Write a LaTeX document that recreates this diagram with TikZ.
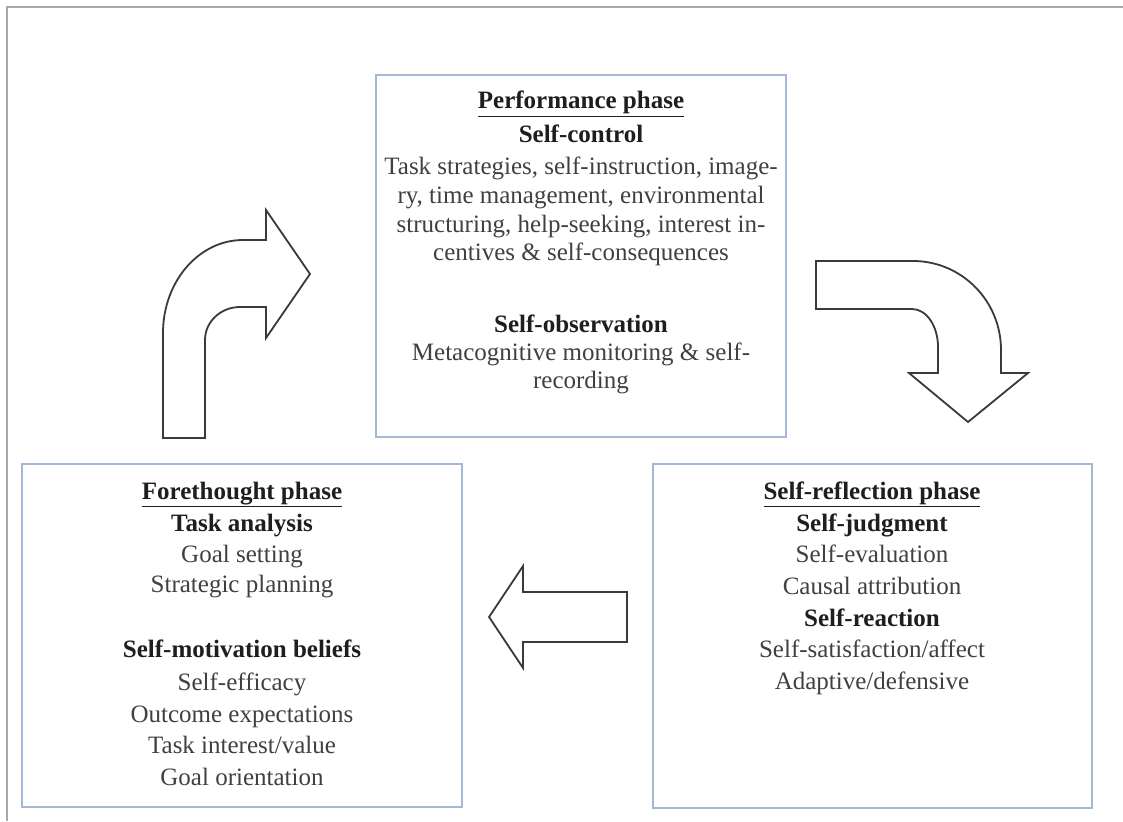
\documentclass[tikz,border=0pt]{standalone}
\usepackage{fontspec}
\setmainfont{Liberation Serif}
\definecolor{boxblue}{HTML}{A3B8D4}
\definecolor{arrowgray}{HTML}{3A3A3A}
\definecolor{txtgray}{HTML}{404040}
\definecolor{headgray}{HTML}{1E1E1E}
\definecolor{framegray}{HTML}{A8A8A8}
\tikzset{
  phasebox/.style={draw=boxblue, line width=2pt, rectangle, inner sep=0pt, fill=white},
  reg/.style={anchor=base, inner sep=0pt, text=txtgray, font=\fontsize{25}{28}\selectfont},
  bold/.style={anchor=base, inner sep=0pt, text=headgray, font=\fontsize{25}{28}\selectfont\bfseries},
  blockarrow/.style={draw=arrowgray, line width=1.8pt, fill=white, line join=miter},
  frameline/.style={draw=framegray, line width=2pt}
}
\begin{document}
\begin{tikzpicture}[x=1pt,y=-1pt]
\useasboundingbox (0,0) rectangle (1123,821);
\fill[white] (0,0) rectangle (1123,821);
\draw[frameline] (1123,7) -- (7,7) -- (7,821);

% boxes
\node[phasebox, minimum width=410pt, minimum height=362pt] (perf) at (581,256) {};
\node[phasebox, minimum width=440pt, minimum height=343pt] (fore) at (242,635.5) {};
\node[phasebox, minimum width=439pt, minimum height=344pt] (refl) at (872.5,636) {};

% performance phase text
\node[bold] (p1) at (581,109) {\underline{Performance phase}};
\node[bold] (p2) at (581,143) {Self-control};
\node[reg]  (p3) at (581,175) {Task strategies, self-instruction, image-};
\node[reg]  (p4) at (581,203) {ry, time management, environmental};
\node[reg]  (p5) at (581,232) {structuring, help-seeking, interest in-};
\node[reg]  (p6) at (581,260) {centives \& self-consequences};
\node[bold] (p7) at (581,332) {Self-observation};
\node[reg]  (p8) at (581,360) {Metacognitive monitoring \& self-};
\node[reg]  (p9) at (581,388) {recording};

% forethought phase text
\node[bold] (f1) at (242,499) {\underline{Forethought phase}};
\node[bold] (f2) at (242,531) {Task analysis};
\node[reg]  (f3) at (242,562) {Goal setting};
\node[reg]  (f4) at (242,592) {Strategic planning};
\node[bold] (f5) at (242,657) {Self-motivation beliefs};
\node[reg]  (f6) at (242,690) {Self-efficacy};
\node[reg]  (f7) at (242,722) {Outcome expectations};
\node[reg]  (f8) at (242,753) {Task interest/value};
\node[reg]  (f9) at (242,785) {Goal orientation};

% self-reflection phase text
\node[bold] (r1) at (872,499) {\underline{Self-reflection phase}};
\node[bold] (r2) at (872,531) {Self-judgment};
\node[reg]  (r3) at (872,562) {Self-evaluation};
\node[reg]  (r4) at (872,594) {Causal attribution};
\node[bold] (r5) at (872,626) {Self-reaction};
\node[reg]  (r6) at (872,657) {Self-satisfaction/affect};
\node[reg]  (r7) at (872,689) {Adaptive/defensive};

% up-right block arrow (forethought -> performance)
\draw[blockarrow] (163,438) -- (163,333)
  .. controls (163,281.6) and (198.8,240) .. (243,240)
  -- (266,240) -- (266,210) -- (310,274) -- (266,338) -- (266,307) -- (240,307)
  .. controls (220.7,307) and (205,321.8) .. (205,340)
  -- (205,438) -- cycle;

% right-down block arrow (performance -> self-reflection)
\draw[blockarrow] (816,261) -- (913,261)
  .. controls (961.6,261) and (1001,300.8) .. (1001,350)
  -- (1001,373) -- (1028,373) -- (968,422) -- (909,373) -- (938,373) -- (938,347)
  .. controls (938,326) and (926.4,309) .. (912,309)
  -- (816,309) -- cycle;

% left block arrow (self-reflection -> forethought)
\draw[blockarrow] (627,592) -- (523,592) -- (523,566) -- (489,617) -- (523,668) -- (523,642) -- (627,642) -- cycle;
\end{tikzpicture}
\end{document}
